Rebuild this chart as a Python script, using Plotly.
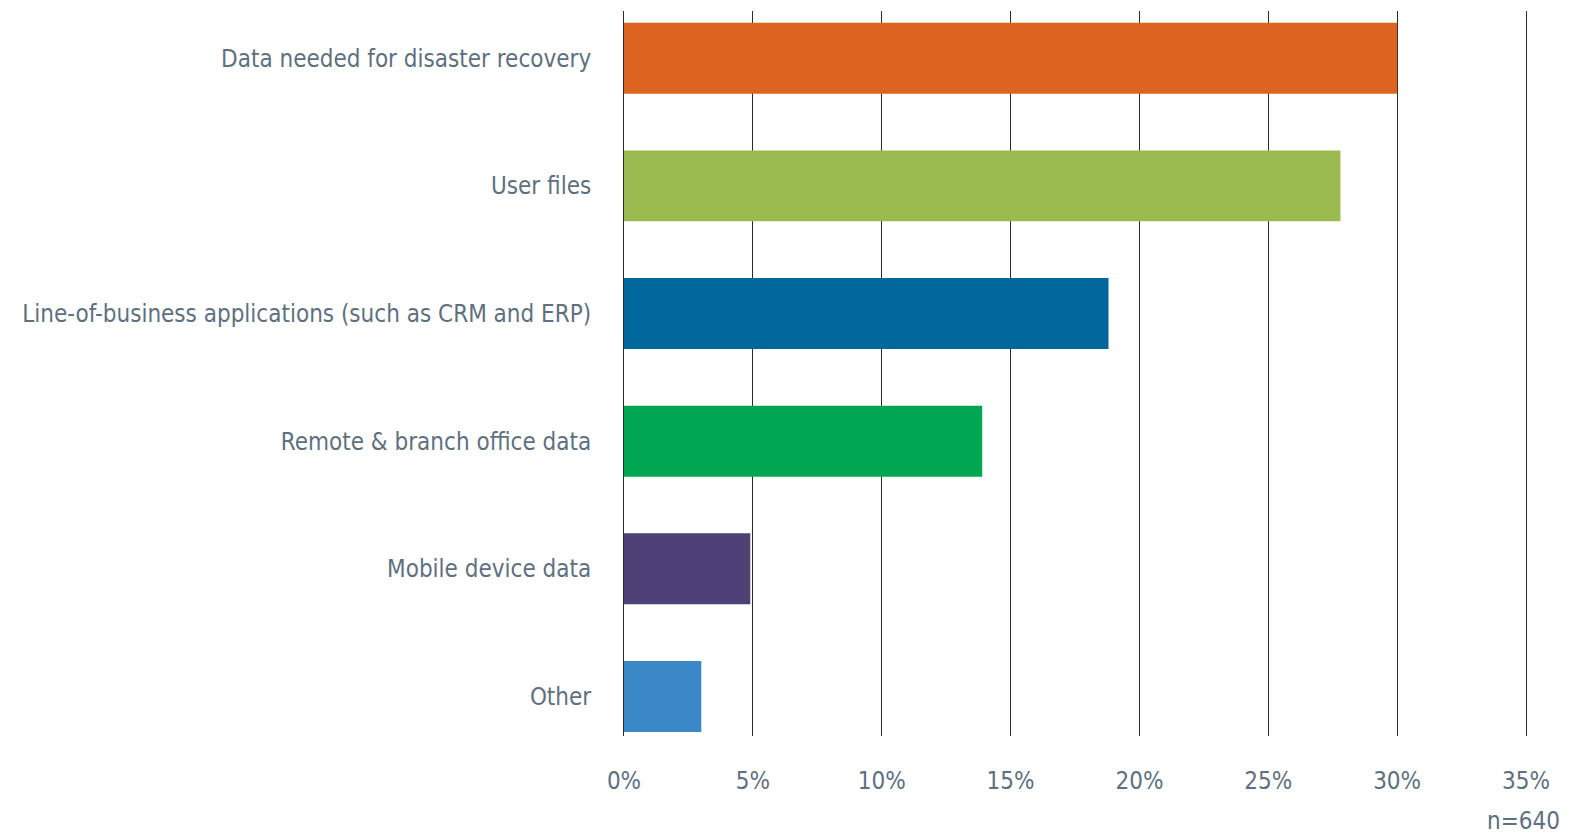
import plotly.graph_objects as go

categories = [
    "Data needed for disaster recovery",
    "User files",
    "Line-of-business applications (such as CRM and ERP)",
    "Remote & branch office data",
    "Mobile device data",
    "Other",
]
values = [30.0, 27.8, 18.8, 13.9, 4.9, 3.0]
colors = ["#DD6420", "#9BBB50", "#00689D", "#00A651", "#4F4178", "#3A88C8"]
x_ticks = [0, 5, 10, 15, 20, 25, 30, 35]
x_ticklabels = [f"{t}%" for t in x_ticks]
note = "n=640"

FONT = "Liberation Sans Narrow, DejaVu Sans Condensed, Arial Narrow, sans-serif"
TXT = "#5E7080"
GRID = "#2a2a2a"

fig = go.Figure(
    go.Bar(
        y=categories,
        x=values,
        orientation="h",
        marker=dict(color=colors, line=dict(width=0)),
        width=0.556,
    )
)

fig.update_layout(
    width=1570,
    height=835,
    margin=dict(l=624, r=44, t=11, b=99),
    paper_bgcolor="white",
    plot_bgcolor="white",
    showlegend=False,
    font=dict(family=FONT, color=TXT, size=24),
    xaxis=dict(
        range=[0, 35],
        tickvals=x_ticks,
        ticktext=x_ticklabels,
        showgrid=True,
        gridcolor=GRID,
        gridwidth=1,
        zeroline=False,
        showline=False,
        ticks="",
        ticklabelstandoff=28,
        tickfont=dict(family=FONT, color=TXT, size=24),
    ),
    yaxis=dict(
        categoryorder="array",
        categoryarray=categories,
        range=[5.31, -0.37],
        showgrid=False,
        zeroline=False,
        showline=True,
        linecolor=GRID,
        linewidth=1,
        mirror=True,
        ticks="",
        ticklabelstandoff=27,
        tickfont=dict(family=FONT, color=TXT, size=24),
    ),
    annotations=[
        dict(
            text=note,
            xref="paper",
            yref="paper",
            x=1.04,
            y=-0.117,
            xanchor="right",
            yanchor="middle",
            showarrow=False,
            font=dict(family=FONT, color=TXT, size=24),
        )
    ],
)

fig.write_html("out.html")
